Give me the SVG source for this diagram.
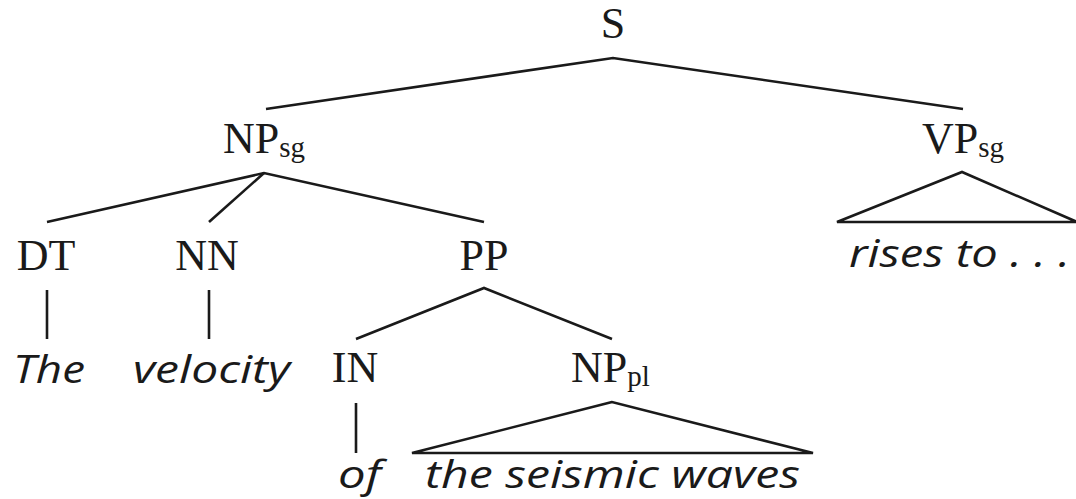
<svg xmlns="http://www.w3.org/2000/svg" width="1076" height="499" viewBox="0 0 1076 499">
<style>
.cat{font-family:"Liberation Serif","Times New Roman",serif;font-size:44px;fill:#1a1a1a}
.sub{font-size:29px}
.word{font-family:"Open Sans","DejaVu Sans",sans-serif;font-style:italic;font-size:38px;fill:#1a1a1a}
.e{stroke:#1a1a1a;stroke-width:2.6;fill:none;stroke-linejoin:miter}
</style>
<rect width="1076" height="499" fill="#ffffff"/>
<g id="connectors">
<path class="e" d="M266,109 L613,58 L963,109"/>
<path class="e" d="M47,222 L264,173 L484,222"/>
<path class="e" d="M264,173 L209,222"/>
<path class="e" d="M47,290 L47,339"/>
<path class="e" d="M209,290 L209,339"/>
<path class="e" d="M356,339 L484,288 L612,339"/>
<path class="e" d="M356,403 L356,453"/>
<path class="e" d="M612,402 L412,453 L813,453 Z"/>
<path class="e" d="M1090,227.6 L962,172 L837,222 L1080,222"/>
</g>
<g id="S"><text class="cat" x="613" y="38" text-anchor="middle">S</text></g>
<g id="NPsg"><text class="cat" x="223" y="153">NP<tspan class="sub" dy="4">sg</tspan></text></g>
<g id="VPsg"><text class="cat" x="922" y="153">VP<tspan class="sub" dy="4">sg</tspan></text></g>
<g id="DT"><text class="cat" x="46" y="270" text-anchor="middle">DT</text></g>
<g id="NN"><text class="cat" x="207" y="270" text-anchor="middle">NN</text></g>
<g id="PP"><text class="cat" x="484" y="270" text-anchor="middle">PP</text></g>
<g id="IN"><text class="cat" x="355" y="382" text-anchor="middle">IN</text></g>
<g id="NPpl"><text class="cat" x="571" y="382">NP<tspan class="sub" dy="4">pl</tspan></text></g>
<g id="The"><text class="word" x="13" y="383" textLength="72" lengthAdjust="spacingAndGlyphs">The</text></g>
<g id="velocity"><text class="word" x="133" y="383" textLength="157" lengthAdjust="spacingAndGlyphs">velocity</text></g>
<g id="of"><text class="word" x="338" y="488" textLength="43" lengthAdjust="spacingAndGlyphs">of</text></g>
<g id="seismic"><text class="word" x="425" y="488" textLength="375" lengthAdjust="spacingAndGlyphs">the seismic waves</text></g>
<g id="rises"><text class="word" x="849" y="267" textLength="221" lengthAdjust="spacingAndGlyphs">rises to . . .</text></g>
</svg>
